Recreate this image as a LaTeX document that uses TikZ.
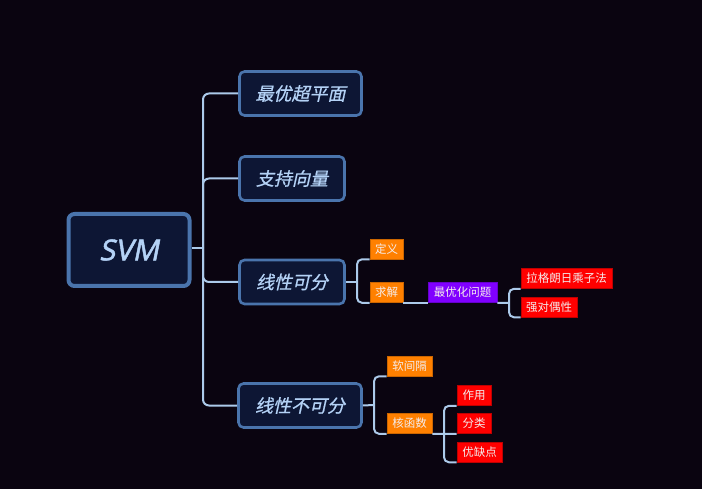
\documentclass[tikz,border=0pt]{standalone}
\usepackage{fontspec}
\setmainfont{Noto Sans CJK SC}
\newfontfamily\cjkit[FakeSlant=0.22,FakeBold=0.8]{Noto Sans CJK SC}
\newfontfamily\latinroot[FakeSlant=0.2,FakeBold=1.5]{Noto Sans}
\newfontfamily\cjk{Noto Sans CJK SC}
\definecolor{bg}{HTML}{0A0410}
\definecolor{boxfill}{HTML}{0D1634}
\definecolor{boxline}{HTML}{4A74AC}
\definecolor{maintext}{HTML}{B4D2F6}
\definecolor{conncol}{HTML}{ACCAEA}
\definecolor{orangefill}{HTML}{FF8000}
\definecolor{purplefill}{HTML}{8000FF}
\definecolor{redfill}{HTML}{FF0000}
\definecolor{smalltext}{HTML}{F4ECEC}
\tikzset{
  mainbox/.style={draw=boxline, fill=boxfill, line width=2.6pt, rounded corners=5pt,
    text=maintext, font=\cjkit\fontsize{18}{18}\selectfont, inner sep=0pt,
    minimum height=44pt},
  rootbox/.style={draw=boxline, fill=boxfill, line width=4pt, rounded corners=6pt,
    text=maintext, font=\latinroot\fontsize{29}{29}\selectfont, inner sep=0pt,
    minimum width=121pt, minimum height=72pt},
  smallbox/.style={inner sep=0pt, minimum height=20pt, text=smalltext,
    font=\cjk\fontsize{11.5}{11.5}\selectfont, line width=0.6pt},
  orangebox/.style={smallbox, fill=orangefill, draw=orangefill!80!black},
  purplebox/.style={smallbox, fill=purplefill, draw=purplefill!80!black},
  redbox/.style={smallbox, fill=redfill, draw=redfill!75!black},
  conn/.style={draw=conncol, line width=2pt, rounded corners=6pt},
}
\begin{document}
\begin{tikzpicture}[x=1pt,y=-1pt]
\fill[bg] (0,0) rectangle (702,489);
\useasboundingbox (0,0) rectangle (702,489);
% coordinates for trunks
\coordinate (t) at (203,248);
\coordinate (b1) at (357,282);
\coordinate (b2) at (509,303);
\coordinate (b3) at (374,405);
\coordinate (b4) at (444,434);
% nodes
\node[rootbox] (svm) at (129,250) {SVM};
\node[mainbox, minimum width=122pt] (n1) at (300.5,93.5) {最优超平面};
\node[mainbox, minimum width=105pt] (n2) at (292,178.5) {支持向量};
\node[mainbox, minimum width=105pt] (n3) at (292,282) {线性可分};
\node[mainbox, minimum width=123pt] (n4) at (300,405.5) {线性不可分};
\node[orangebox, minimum width=33pt] (dy) at (386.5,249) {定义};
\node[orangebox, minimum width=33pt] (qj) at (386.5,292.5) {求解};
\node[purplebox, minimum width=69pt] (opt) at (462.5,292.5) {最优化问题};
\node[redbox, minimum width=91pt] (lg) at (566.5,278.5) {拉格朗日乘子法};
\node[redbox, minimum width=56pt] (qd) at (549,307) {强对偶性};
\node[orangebox, minimum width=45pt] (rj) at (409.5,366) {软间隔};
\node[orangebox, minimum width=45pt] (hh) at (409.5,423.5) {核函数};
\node[redbox, minimum width=34pt] (zy) at (474,395.5) {作用};
\node[redbox, minimum width=34pt] (fl) at (474,423.5) {分类};
\node[redbox, minimum width=45pt] (yq) at (479.5,452) {优缺点};
% main connectors
\draw[conn] (svm.east |- t) -- (t);
\draw[conn] (t) |- (n1.west);
\draw[conn] (t) |- (n2.west);
\draw[conn] (t) |- (n3.west);
\draw[conn] (t) |- (n4.west);
% small connectors
\draw[conn] (n3.east) -- (b1);
\draw[conn, rounded corners=5pt] (dy.south west) -| (b1) |- (qj.south west);
\draw[conn] (qj.south east) -- (opt.south west);
\draw[conn] (opt.south east) -- (b2);
\draw[conn, rounded corners=5pt] (lg.south west) -| (b2) |- (qd.south west);
\draw[conn] (n4.east) -- (b3);
\draw[conn, rounded corners=5pt] (rj.south west) -| (b3) |- (hh.south west);
\draw[conn] (hh.south east) -- (b4) -- (fl.south west);
\draw[conn, rounded corners=5pt] (zy.south west) -| (b4) |- (yq.south west);
\end{tikzpicture}
\end{document}
